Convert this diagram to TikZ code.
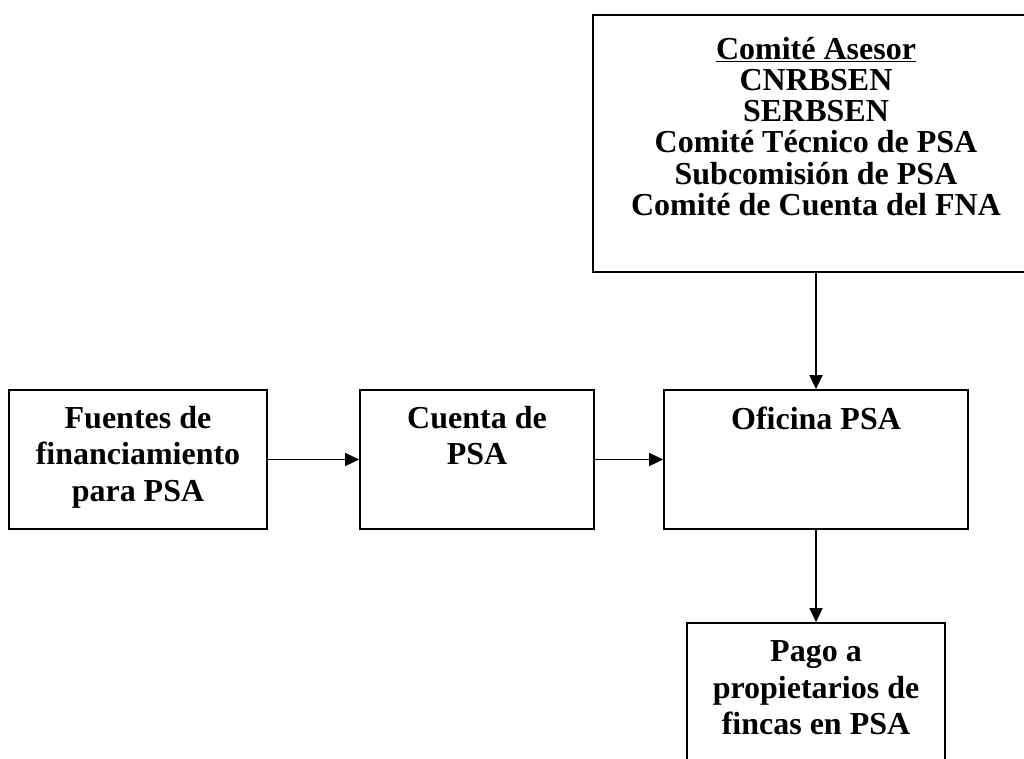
\documentclass[tikz,border=0pt]{standalone}
\usepackage{fontspec}
\setmainfont{Liberation Serif}
\usepackage{tikz}
\usetikzlibrary{arrows.meta}
\tikzset{>={Triangle[length=14pt,width=13pt]}}
\tikzset{
  box/.style={draw,rectangle,line width=1.8pt,inner sep=0pt},
  boxtext/.style={anchor=north,align=center,inner sep=0pt,
    font=\bfseries\fontsize{32}{36.5}\selectfont},
  flow/.style={line width=1.8pt,->}
}

\begin{document}
\begin{tikzpicture}[x=1pt,y=-1pt]
          \useasboundingbox (0,0) rectangle (1024,758);
          \clip (0,0) rectangle (1024,758);

          % Boxes
          \node[box,minimum width=446pt,minimum height=257pt] (asesor) at (816,143.5) {};
          \node[box,minimum width=258pt,minimum height=139pt] (fuentes) at (138,459.5) {};
          \node[box,minimum width=234pt,minimum height=139pt] (cuenta) at (477,459.5) {};
          \node[box,minimum width=304pt,minimum height=139pt] (oficina) at (816,459.5) {};
          \node[box,minimum width=258pt,minimum height=170pt] (pago) at (816,708) {};

          % Texts
          \node[boxtext,font=\bfseries\fontsize{32}{31.3}\selectfont] (asesortxt) at ([yshift=-22.5pt]asesor.north)
            {\underline{Comité Asesor}\\CNRBSEN\\SERBSEN\\Comité Técnico de PSA\\Subcomisión de PSA\\Comité de Cuenta del FNA};
          \node[boxtext] (fuentestxt) at ([yshift=-16.5pt]fuentes.north) {Fuentes de\\financiamiento\\para PSA};
          \node[boxtext] (cuentatxt) at ([yshift=-16.5pt]cuenta.north) {Cuenta de\\PSA};
          \node[boxtext] (oficinatxt) at ([yshift=-18pt]oficina.north) {Oficina PSA};
          \node[boxtext] (pagotxt) at ([yshift=-18.5pt]pago.north) {Pago a\\propietarios de\\fincas en PSA};

          % Arrows
          \draw[flow] (fuentes) -- (cuenta);
          \draw[flow] (cuenta) -- (oficina);
          \draw[flow] (asesor) -- (oficina);
          \draw[flow] (oficina) -- (pago);

\end{tikzpicture}
\end{document}
